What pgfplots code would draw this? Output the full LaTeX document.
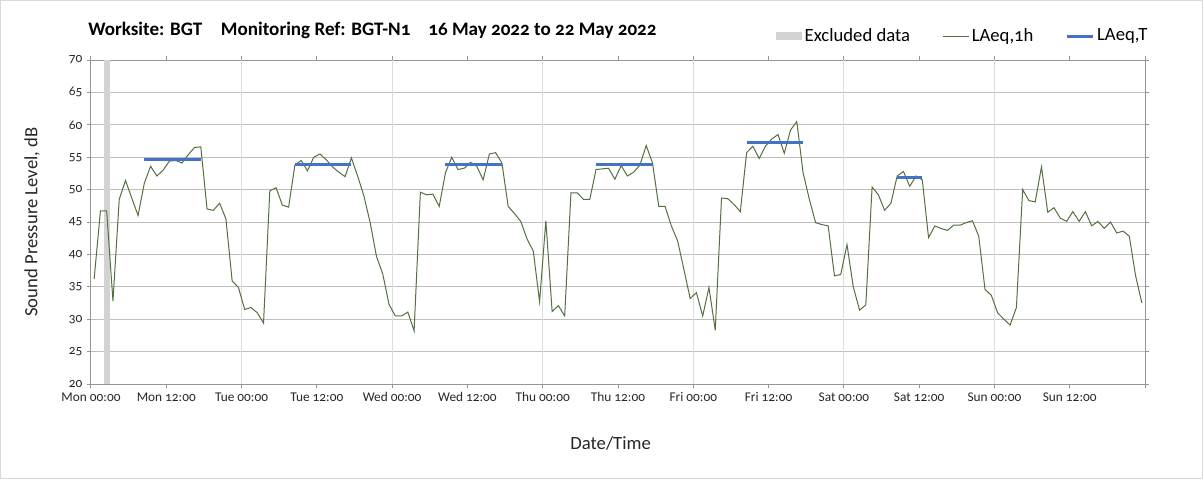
\documentclass[border=0pt]{standalone}
\usepackage{fontspec}
\setmainfont{Carlito}[Numbers=OldStyle]
\usepackage{pgfplots}
\pgfplotsset{compat=1.18}
\definecolor{lgreen}{RGB}{84,112,64}
\definecolor{lblue}{RGB}{68,114,196}
\definecolor{excl}{RGB}{210,210,210}
\definecolor{hgrid}{RGB}{190,190,190}
\definecolor{vgrid}{RGB}{220,220,220}
\definecolor{axgray}{RGB}{150,150,150}
\begin{document}
\begin{tikzpicture}[x=1pt,y=1pt]
\path[use as bounding box] (0,0) rectangle (902.25,360);
\draw[gray!30, line width=0.75pt] (0.4,1.5) rectangle (901.8,359.6);
\begin{axis}[
  at={(68.25pt,72pt)}, anchor=south west, scale only axis,
  width=790.5pt, height=243pt,
  xmin=0, xmax=168, ymin=20, ymax=70,
  xtick={0,12,...,168},
  xticklabels={Mon 00:00, Mon 12:00, Tue 00:00, Tue 12:00, Wed 00:00, Wed 12:00, Thu 00:00, Thu 12:00, Fri 00:00, Fri 12:00, Sat 00:00, Sat 12:00, Sun 00:00, Sun 12:00, {}},
  ytick={20,25,...,70},
  ymajorgrids=true, xmajorgrids=false,
  major grid style={hgrid, line width=0.75pt},
  extra x ticks={24,48,72,96,120,144},
  extra x tick labels={},
  extra x tick style={xmajorgrids=true, major grid style={vgrid, line width=0.75pt}},
  tick align=outside, major tick length=3pt,
  tick style={axgray, line width=0.75pt},
  axis line style={axgray, line width=0.75pt},
  tick label style={font=\fontsize{10}{12}\selectfont, text=black!85},
  /pgf/number format/assume math mode=true,
  xlabel={Date/Time},
  ylabel={Sound Pressure Level, dB},
  label style={font=\fontsize{14}{16}\selectfont, text=black!85},
  xlabel style={at={(axis description cs:0.493,-0.182)}, anchor=center},
  ylabel style={at={(axis description cs:-0.056,0.5)}, anchor=center},
  legend style={at={(1,1)}, anchor=east, xshift=7pt, yshift=18pt, draw=none, fill=none,
    legend columns=3, font=\fontsize{14}{16}\selectfont,
    /tikz/every even column/.append style={column sep=22pt}},
  legend cell align=left,
]
\addplot[fill=excl, draw=none, legend image code/.code={\fill[excl] (0pt,-3pt) rectangle (19.5pt,3pt);}]
  coordinates {(2,70) (3,70)} \closedcycle;
\addlegendentry{Excluded data}
\addplot[lgreen, line width=0.75pt, mark=none, legend image code/.code={\draw[lgreen, line width=0.75pt] (0pt,0pt) -- (19.5pt,0pt);}]
  table[x=t, y=v] {
t v
0.5 36.2
1.5 46.7
2.5 46.7
3.5 32.8
4.5 48.5
5.5 51.4
6.5 48.7
7.5 46.0
8.5 51.0
9.5 53.6
10.5 52.1
11.5 53.0
12.5 54.4
13.5 54.5
14.5 54.1
15.5 55.4
16.5 56.5
17.5 56.6
18.5 47.0
19.5 46.8
20.5 47.9
21.5 45.5
22.5 35.9
23.5 34.9
24.5 31.5
25.5 31.8
26.5 31.0
27.5 29.4
28.5 49.8
29.5 50.3
30.5 47.6
31.5 47.3
32.5 53.8
33.5 54.5
34.5 52.9
35.5 55.0
36.5 55.5
37.5 54.6
38.5 53.5
39.5 52.7
40.5 52.0
41.5 54.9
42.5 52.1
43.5 49.0
44.5 44.9
45.5 39.7
46.5 37.0
47.5 32.3
48.5 30.5
49.5 30.5
50.5 31.1
51.5 28.2
52.5 49.6
53.5 49.2
54.5 49.3
55.5 47.4
56.5 52.6
57.5 55.0
58.5 53.1
59.5 53.3
60.5 54.2
61.5 53.6
62.5 51.5
63.5 55.5
64.5 55.7
65.5 54.1
66.5 47.4
67.5 46.3
68.5 45.1
69.5 42.4
70.5 40.5
71.5 32.7
72.5 45.2
73.5 31.2
74.5 32.1
75.5 30.5
76.5 49.5
77.5 49.5
78.5 48.5
79.5 48.5
80.5 53.1
81.5 53.2
82.5 53.3
83.5 51.6
84.5 53.7
85.5 52.1
86.5 52.7
87.5 53.8
88.5 56.8
89.5 54.1
90.5 47.4
91.5 47.4
92.5 44.4
93.5 42.1
94.5 37.7
95.5 33.2
96.5 34.1
97.5 30.5
98.5 34.9
99.5 28.3
100.5 48.7
101.5 48.6
102.5 47.7
103.5 46.6
104.5 55.7
105.5 56.7
106.5 54.8
107.5 56.7
108.5 57.8
109.5 58.5
110.5 55.6
111.5 59.2
112.5 60.5
113.5 52.6
114.5 48.5
115.5 44.9
116.5 44.6
117.5 44.4
118.5 36.7
119.5 36.9
120.5 41.5
121.5 35.0
122.5 31.4
123.5 32.2
124.5 50.4
125.5 49.2
126.5 46.8
127.5 47.9
128.5 52.1
129.5 52.8
130.5 50.5
131.5 52.1
132.5 51.5
133.5 42.6
134.5 44.4
135.5 44.0
136.5 43.7
137.5 44.5
138.5 44.5
139.5 44.9
140.5 45.2
141.5 42.8
142.5 34.6
143.5 33.7
144.5 31.0
145.5 30.0
146.5 29.1
147.5 31.8
148.5 50.0
149.5 48.3
150.5 48.1
151.5 53.5
152.5 46.5
153.5 47.2
154.5 45.6
155.5 45.1
156.5 46.6
157.5 45.1
158.5 46.6
159.5 44.4
160.5 45.1
161.5 44.0
162.5 45.0
163.5 43.3
164.5 43.6
165.5 42.8
166.5 36.7
167.5 32.5
};
\addlegendentry{LAeq,1h}
\addplot[lblue, line width=2.25pt, mark=none, legend image code/.code={\draw[lblue, line width=2.25pt] (0pt,0pt) -- (19.5pt,0pt);}]
  coordinates {(8.5,54.6) (17.5,54.6)};
\addlegendentry{LAeq,T}
\addplot[lblue, line width=2.25pt, mark=none, forget plot] coordinates {(32.5,53.9) (41.5,53.9)};
\addplot[lblue, line width=2.25pt, mark=none, forget plot] coordinates {(56.5,53.9) (65.5,53.9)};
\addplot[lblue, line width=2.25pt, mark=none, forget plot] coordinates {(80.5,53.8) (89.5,53.8)};
\addplot[lblue, line width=2.25pt, mark=none, forget plot] coordinates {(104.5,57.3) (113.5,57.3)};
\addplot[lblue, line width=2.25pt, mark=none, forget plot] coordinates {(128.5,51.8) (132.5,51.8)};
\end{axis}
\node[anchor=west, inner sep=0pt, font=\bfseries\fontsize{14.3}{17}\selectfont] at (66,337.5)
  {Worksite: BGT\hspace{14pt}Monitoring Ref: BGT-N1\hspace{13.5pt}16 May 2022 to 22 May 2022};
\end{tikzpicture}
\end{document}
